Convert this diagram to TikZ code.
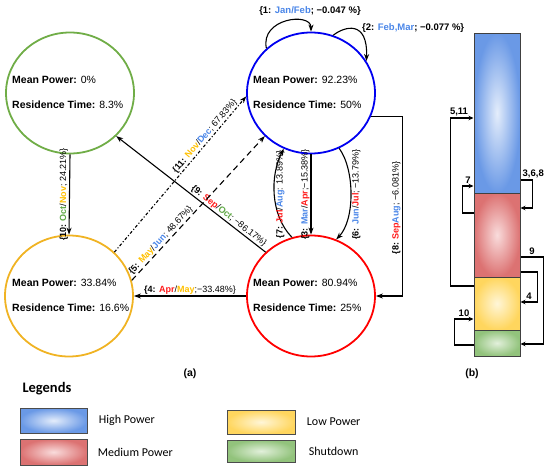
\documentclass[tikz,border=0pt]{standalone}
\usepackage{fontspec}
\setmainfont{Liberation Sans}
\newfontfamily\legendfont{Carlito}
\usetikzlibrary{arrows.meta,positioning,shapes.geometric}

\definecolor{hiline}{HTML}{0000F0}
\definecolor{medline}{HTML}{FF0000}
\definecolor{loline}{HTML}{F0B323}
\definecolor{sdline}{HTML}{70AD47}
\definecolor{monthblue}{HTML}{4A86E8}
\definecolor{monthred}{HTML}{FF1A1A}
\definecolor{monthyellow}{HTML}{FFC000}
\definecolor{monthgreen}{HTML}{5FA845}
\definecolor{hiout}{HTML}{6A99E6}
\definecolor{hiin}{HTML}{E4EDFB}
\definecolor{medout}{HTML}{DC7272}
\definecolor{medin}{HTML}{F9DCDC}
\definecolor{loout}{HTML}{FFD65E}
\definecolor{loin}{HTML}{FFF6D8}
\definecolor{sdout}{HTML}{92C37C}
\definecolor{sdin}{HTML}{E2F0DB}

\newcommand\mhi[1]{\textcolor{monthblue}{\textbf{#1}}}
\newcommand\mmed[1]{\textcolor{monthred}{\textbf{#1}}}
\newcommand\mlo[1]{\textcolor{monthyellow}{\textbf{#1}}}
\newcommand\msd[1]{\textcolor{monthgreen}{\textbf{#1}}}

\tikzset{
    state/.style={ellipse,draw,line width=1.8pt,minimum width=128pt,minimum height=121pt,inner sep=0pt},
    info/.style={anchor=west,align=left,inner sep=0pt,font=\fontsize{10.5}{13}\selectfont},
    trans/.style={-{Stealth[length=7pt,width=5pt]},line width=1.1pt},
    lbl/.style={font=\fontsize{9}{10}\selectfont,inner sep=1pt},
    barseg/.style={draw=black!75,line width=1pt,minimum width=46pt,inner sep=0pt},
    barrow/.style={-{Stealth[length=5pt,width=4.5pt]},line width=1.4pt},
    barlbl/.style={font=\bfseries\fontsize{9.5}{10}\selectfont,inner sep=1.5pt},
    legbox/.style={draw=black!70,line width=0.8pt,inner sep=0pt},
    legtxt/.style={font=\legendfont\fontsize{12}{14}\selectfont}
}

\begin{document}
\begin{tikzpicture}[x=1pt,y=-1pt]
  \useasboundingbox (0,0) rectangle (550,471);

  % states
  \node[state,draw=sdline]  (sd)  at (70,93)  {};
  \node[state,draw=hiline]  (hi)  at (311,93) {};
  \node[state,draw=loline]  (lo)  at (69,296) {};
  \node[state,draw=medline] (med) at (311,296) {};

  \node[info] (sdtext)  at (12,92)   {\textbf{Mean Power:} 0\%\\[12pt]\textbf{Residence Time:} 8.3\%};
  \node[info] (hitext)  at (253,92)  {\textbf{Mean Power:} 92.23\%\\[12pt]\textbf{Residence Time:} 50\%};
  \node[info] (lotext)  at (12,295)  {\textbf{Mean Power:} 33.84\%\\[12pt]\textbf{Residence Time:} 16.6\%};
  \node[info] (medtext) at (253,295) {\textbf{Mean Power:} 80.94\%\\[12pt]\textbf{Residence Time:} 25\%};

  % transitions
  \draw[trans] (hi.135) .. controls (260,18) and (311,12) .. (hi.90);
  \node[lbl,font=\bfseries\fontsize{9.5}{10}\selectfont] (l1) at (310,11) {\{1: \mhi{Jan/Feb}; −0.047 \%\}};
  \draw[trans] (hi.69) .. controls (345,26) and (368,20) .. (hi.30);
  \node[lbl,font=\bfseries\fontsize{9.5}{10}\selectfont,anchor=west] (l2) at (361,28) {\{2: \mhi{Feb,Mar}; −0.077 \%\}};

  \draw[trans] (hi.south) -- node[lbl,rotate=90,above] {\textbf{\{3:} \mhi{Mar}/\mmed{Apr};−15.38\%\}} (med.north);
  \draw[trans] (med.108) .. controls (270,215) and (270,175) .. node[lbl,rotate=90,below] {\textbf{\{7:} \mmed{Jul}/\mhi{Aug}: 13.89\%\}} (hi.244);
  \draw[trans] (hi.297) .. controls (355,170) and (355,220) .. node[lbl,rotate=90,below] {\textbf{\{6:} \mhi{Jun}/\mmed{Jul}; −13.79\%\}} (med.66);
  \draw[trans] (hi.339) -- ++(31,0) |- node[lbl,rotate=90,above,pos=0.25,xshift=-2pt] {\textbf{\{8:} \mmed{Sep}\mhi{Aug}; −6.081\%\}} (med.east);
  \draw[trans] (med.west) -- node[lbl,above] {\textbf{\{4:} \mmed{Apr}/\mlo{May};−33.48\%\}} (lo.east);
  \draw[trans] (sd.south) -- node[lbl,rotate=90,above] {\textbf{\{10:} \msd{Oct}/\mlo{Nov}; 24.21\%\}} (lo.north);
  \draw[trans] (med.136) -- node[lbl,sloped,above,pos=0.27] {\textbf{\{9:} \mmed{Sep}/\msd{Oct}; −86.17\%\}} (sd.317);
  \draw[trans,dash dot] (lo.44) -- node[lbl,sloped,above,pos=0.72] {\textbf{\{11:} \mlo{Nov}/\mhi{Dec}; 67.83\%\}} (hi.183);
  \draw[trans,dash pattern=on 6pt off 4pt] (lo.14) -- node[lbl,sloped,above,pos=0.25] {\textbf{\{5:} \mlo{May}/\mhi{Jun}; 48.67\%\}} (hi.223);

  % bar (b)
  \node[barseg,minimum height=160pt,inner color=hiin,outer color=hiout]  (bhi)  at (497,113)   {};
  \node[barseg,minimum height=84pt,inner color=medin,outer color=medout] (bmed) at (497,235)   {};
  \node[barseg,minimum height=53pt,inner color=loin,outer color=loout]   (blo)  at (497,303.5) {};
  \node[barseg,minimum height=26pt,inner color=sdin,outer color=sdout]   (bsd)  at (497,343)   {};

  \draw[barrow] (blo.west |- 0,286) -- ++(-23,0) |- node[barlbl,above,pos=0.75,xshift=-3pt] {5,11} (bhi.west |- 0,118);
  \draw[barrow] (bmed.west |- 0,213) -- ++(-11,0) |- node[barlbl,above,pos=0.75] {7} (bhi.west |- 0,186);
  \draw[barrow] (bhi.east |- 0,180) node[barlbl,anchor=south west] {3,6,8} -- ++(12,0) |- (bmed.east |- 0,208);
  \draw[barrow] (bmed.east |- 0,257) -- node[barlbl,above] {9} ++(23,0) |- (bsd.east |- 0,344);
  \draw[barrow] (bmed.east |- 0,272) -- ++(17,0) |- node[barlbl,above,pos=0.75] {4} (blo.east |- 0,302);
  \draw[barrow] (bsd.west |- 0,345) -- ++(-19,0) |- node[barlbl,above,pos=0.75] {10} (blo.west |- 0,319);

  \node[font=\bfseries\fontsize{10.5}{12}\selectfont] (capa) at (190,374) {(a)};
  \node[font=\bfseries\fontsize{10.5}{12}\selectfont] (capb) at (472,374) {(b)};

  % legend
  \node[anchor=west,font=\legendfont\bfseries\fontsize{14.5}{16}\selectfont] (legtitle) at (19,389) {Legends};
  \node[legbox,minimum width=67pt,minimum height=25pt,inner color=hiin,outer color=hiout]  (lhi)  at (53.5,420.5) {};
  \node[legbox,minimum width=67pt,minimum height=26pt,inner color=medin,outer color=medout] (lmed) at (53.5,452) {};
  \node[legbox,minimum width=68pt,minimum height=24pt,inner color=loin,outer color=loout]  (llo)  at (261,422) {};
  \node[legbox,minimum width=68pt,minimum height=22pt,inner color=sdin,outer color=sdout]  (lsd)  at (261,451) {};
  \node[legtxt,right=8pt of lhi]  (thi)  {High Power};
  \node[legtxt,right=7pt of lmed] (tmed) {Medium Power};
  \node[legtxt,right=8pt of llo]  (tlo)  {Low Power};
  \node[legtxt,right=10pt of lsd] (tsd)  {Shutdown};

\end{tikzpicture}
\end{document}
